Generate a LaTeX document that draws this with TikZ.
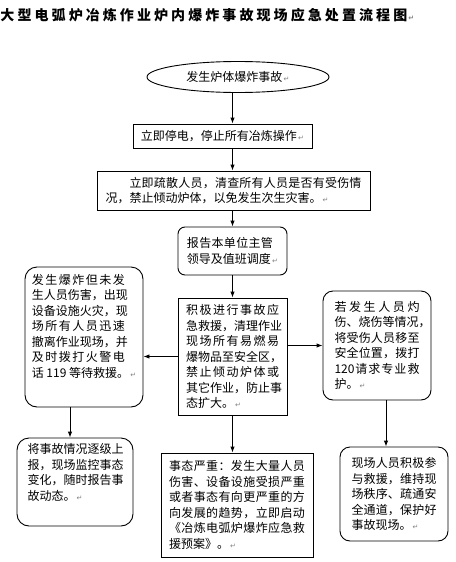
\documentclass[tikz,border=0pt]{standalone}
\usepackage{fontspec}
\setmainfont{Noto Sans CJK SC}
\newfontfamily\titlecjk[LetterSpace=22]{Noto Sans CJK SC}
\newfontfamily\markfont{DejaVu Sans}
\usepackage{tikz}
\usetikzlibrary{shapes.geometric, arrows.meta}
% paragraph mark after each text
\newcommand{\pmark}{{\markfont\fontsize{7}{7}\selectfont\color{gray}\,↵}}
% one line spread to a given width
\ExplSyntaxOn
\NewDocumentCommand\jline{mm}{\hbox~to~#1{\tl_map_inline:nn{#2}{##1\hfil}\unskip}}
\ExplSyntaxOff

\begin{document}
\begin{tikzpicture}[x=1pt, y=-1pt, line width=0.9pt,
    every node/.style={font=\fontsize{12}{15.5}\selectfont, align=left, inner sep=0pt},
    flowbox/.style={draw, minimum width=#1},
    roundbox/.style={draw, rounded corners=10pt, minimum width=#1},
    arr/.style={-{Latex[length=6pt, width=4.5pt]}}]
\useasboundingbox (0,0) rectangle (455,562);
\node[anchor=west, font=\titlecjk\bfseries\fontsize{14}{14}\selectfont] (title) at (0,15) {大型电弧炉冶炼作业炉内爆炸事故现场应急处置流程图\pmark};
\node[draw, ellipse, minimum width=182, minimum height=31] (fire) at (238,77) {发生炉体爆炸事故\pmark};
\node[flowbox=179, minimum height=24] (stop) at (222.5,136) {立即停电，停止所有冶炼操作\pmark};
\node[flowbox=273, minimum height=39] (evac) at (233.5,190.5) {\hspace*{2em}\jline{232pt}{立即疏散人员，清查所有人员是否有受伤情}\\况，禁止倾动炉体，以免发生次生灾害。\pmark};
\node[roundbox=109, rounded corners=7pt, minimum height=48] (report) at (232.5,251) {\jline{86pt}{报告本单位主管}\\领导及值班调度\pmark};
\node[flowbox=109, minimum height=117] (rescue) at (232.5,356.5) {\jline{93pt}{积极进行事故应}\\\jline{93pt}{急救援，清理作业}\\\jline{93pt}{现场所有易燃易}\\\jline{93pt}{爆物品至安全区，}\\\jline{93pt}{禁止倾动炉体或}\\\jline{93pt}{其它作业，防止事}\\态扩大。\pmark};
\node[roundbox=118, rounded corners=12pt, minimum height=140] (firecase) at (84,337) {\jline{93pt}{发生爆炸但未发}\\\jline{93pt}{生人员伤害，出现}\\\jline{93pt}{设备设施火灾，现}\\\jline{93pt}{场所有人员迅速}\\\jline{93pt}{撤离作业现场，并}\\\jline{93pt}{及时拨打火警电}\\话 119 等待救援。\pmark\\[7pt]};
\node[roundbox=108, minimum height=109] (burn) at (377,345.5) {\jline{85pt}{若发生人员灼}\\\jline{85pt}{伤、烧伤等情况，}\\\jline{85pt}{将受伤人员移至}\\\jline{85pt}{安全位置，拨打}\\\jline{85pt}{{120}请求专业救}\\护。\pmark};
\node[roundbox=116, rounded corners=12pt, minimum height=88] (monitor) at (75,482) {\jline{95pt}{将事故情况逐级上}\\\jline{95pt}{报，现场监控事态}\\\jline{95pt}{变化，随时报告事}\\故动态。\pmark\\[5pt]};
\node[flowbox=152, minimum height=104] (plan) at (237,505) {\jline{136pt}{事态严重：发生大量人员}\\\jline{136pt}{伤害、设备设施受损严重}\\\jline{136pt}{或者事态有向更严重的方}\\\jline{136pt}{向发展的趋势，立即启动}\\\jline{136pt}{《冶炼电弧炉爆炸应急救}\\援预案》。\pmark};
\node[roundbox=108, minimum height=94] (scene) at (394,494) {\jline{85pt}{现场人员积极参}\\\jline{85pt}{与救援，维持现}\\\jline{85pt}{场秩序、疏通安}\\\jline{85pt}{全通道，保护好}\\事故现场。\pmark};
\draw[arr] (fire.south -| report) -- (stop.north -| report);
\draw[arr] (stop.south -| report) -- (evac.north -| report);
\draw[arr] (evac.south -| report) -- (report.north);
\draw[arr] (report.south) -- (rescue.north);
\draw[arr] (rescue.west) -- (rescue.west -| firecase.east);
\draw[arr] (rescue.east |- burn.west) -- (burn.west);
\draw[arr] (rescue.south) -- (rescue.south |- plan.north);
\draw[arr] ([xshift=-5pt]monitor.north |- firecase.south) -- ([xshift=-5pt]monitor.north);
\draw[arr] ([xshift=-8pt]scene.north |- burn.south) -- ([xshift=-8pt]scene.north);
\end{tikzpicture}
\end{document}
